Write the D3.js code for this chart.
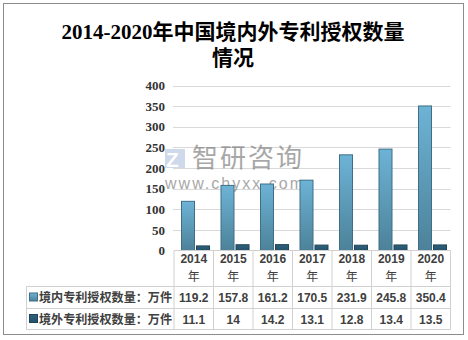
<!DOCTYPE html>
<html><head><meta charset="utf-8">
<script src="https://cdn.jsdelivr.net/npm/d3@7/dist/d3.min.js"></script>
<style>body{margin:0;background:#fff}</style>
</head><body>
<svg id="c" width="468" height="340"></svg>
<script>
const years = ["2014","2015","2016","2017","2018","2019","2020"];
const domestic = [119.2,157.8,161.2,170.5,231.9,245.8,350.4];
const foreign = [11.1,14,14.2,13.1,12.8,13.4,13.5];
const domesticLabels = ["119.2","157.8","161.2","170.5","231.9","245.8","350.4"];
const foreignLabels = ["11.1","14","14.2","13.1","12.8","13.4","13.5"];
const seriesNames = ["境内专利授权数量：万件","境外专利授权数量：万件"];
const yTicks = [0,50,100,150,200,250,300,350,400];
const titleLines = ["2014-2020年中国境内外专利授权数量","情况"];

const svg = d3.select("#c");
const defs = svg.append("defs");
const g1 = defs.append("linearGradient").attr("id","gd").attr("x1",0).attr("y1",0).attr("x2",0).attr("y2",1);
g1.append("stop").attr("offset","0%").attr("stop-color","#6db3d6");
g1.append("stop").attr("offset","100%").attr("stop-color","#4c8299");
const g2 = defs.append("linearGradient").attr("id","gf").attr("x1",0).attr("y1",0).attr("x2",0).attr("y2",1);
g2.append("stop").attr("offset","0%").attr("stop-color","#2f627c");
g2.append("stop").attr("offset","100%").attr("stop-color","#24506a");

// outer frame
svg.append("rect").attr("x",3.5).attr("y",3.5).attr("width",460).attr("height",331)
  .attr("fill","#fff").attr("stroke","#8c8c8c").attr("stroke-width",1);

// title
svg.append("g").selectAll("text").data(titleLines).join("text")
  .attr("x",233).attr("y",(d,i)=>39+i*26).attr("text-anchor","middle")
  .attr("font-family","'Liberation Serif','Noto Sans CJK SC',serif").attr("font-size",21)
  .attr("font-weight","bold").attr("fill","#000").text(d=>d);

const left = 174, right = 450.5, y0 = 250.5, yTop = 85.5;
const x = d3.scaleBand().domain(years).range([left,right]).paddingInner(0).paddingOuter(0);
const y = d3.scaleLinear().domain([0,400]).range([y0,yTop]);

// gridlines
svg.append("g").selectAll("line").data(yTicks.filter(t=>t>0)).join("line")
  .attr("x1",left-1).attr("x2",right).attr("y1",d=>Math.round(y(d))+0.5).attr("y2",d=>Math.round(y(d))+0.5)
  .attr("stroke","#d9d9d9").attr("stroke-width",1);

// y axis labels
const yAxis = d3.axisLeft(y).tickValues(yTicks).tickSize(0).tickPadding(0);
const ya = svg.append("g").attr("transform",`translate(165,0)`).call(yAxis);
ya.select(".domain").remove();
ya.selectAll("text").attr("font-family","'Liberation Serif',serif").attr("font-weight","bold")
  .attr("font-size",13).attr("fill","#333");

// watermark
const wm = svg.append("g").attr("opacity",0.6);
wm.append("rect").attr("x",165).attr("y",149).attr("width",20).attr("height",19).attr("fill","#8fa5d3").attr("opacity",0.7);
wm.append("text").attr("x",166).attr("y",167).attr("font-family","'Liberation Sans',sans-serif")
  .attr("font-weight","bold").attr("font-size",21).attr("fill","#fff").text("Z");
wm.append("text").attr("x",192).attr("y",167).attr("font-family","'Noto Sans CJK SC',sans-serif")
  .attr("font-size",26).attr("textLength",110).attr("lengthAdjust","spacing").attr("fill","#6e6e6e").text("智研咨询");
wm.append("text").attr("x",165).attr("y",189).attr("font-family","'Liberation Sans',sans-serif")
  .attr("font-size",16).attr("textLength",138).attr("lengthAdjust","spacing").attr("fill","#6e6e6e").text("www.chyxx.com");

// bars
const bw = 13;
svg.append("g").selectAll("rect").data(domestic).join("rect")
  .attr("x",(d,i)=>x(years[i])+7.5).attr("y",d=>y(d)).attr("width",bw).attr("height",d=>y0-y(d))
  .attr("fill","url(#gd)").attr("stroke","#3e6f86").attr("stroke-width",1);
svg.append("g").selectAll("rect").data(foreign).join("rect")
  .attr("x",(d,i)=>x(years[i])+22.5).attr("y",d=>y(d)).attr("width",bw).attr("height",d=>y0-y(d))
  .attr("fill","url(#gf)").attr("stroke","#1f4357").attr("stroke-width",1);

// table
const tl = 26.5, r1 = 286.5, r2 = 308.5, r3 = 329.5;
const tg = svg.append("g").attr("stroke","#d0d0d0").attr("stroke-width",1);
tg.append("line").attr("x1",left).attr("x2",right).attr("y1",y0).attr("y2",y0);
[r1,r2,r3].forEach(r=>tg.append("line").attr("x1",tl).attr("x2",right).attr("y1",r).attr("y2",r));
tg.append("line").attr("x1",tl).attr("x2",tl).attr("y1",r1).attr("y2",r3);
tg.selectAll(".v").data(years.concat(["end"])).join("line")
  .attr("x1",(d,i)=>left+i*x.bandwidth()).attr("x2",(d,i)=>left+i*x.bandwidth())
  .attr("y1",y0).attr("y2",r3);

const ff = "'Liberation Sans','Noto Sans CJK SC',sans-serif";
const hdr = svg.append("g").attr("font-family",ff).attr("font-size",12).attr("font-weight","bold")
  .attr("fill","#404040").attr("text-anchor","middle");
hdr.selectAll(".y").data(years).join("text").attr("x",d=>x(d)+x.bandwidth()/2).attr("y",263).text(d=>d);
hdr.selectAll(".n").data(years).join("text").attr("x",d=>x(d)+x.bandwidth()/2).attr("y",281)
  .attr("font-family","'Noto Sans CJK SC',sans-serif").attr("font-size",12).attr("font-weight","normal").text("年");
hdr.selectAll(".a").data(domesticLabels).join("text").attr("x",(d,i)=>x(years[i])+x.bandwidth()/2).attr("y",301.5).text(d=>d);
hdr.selectAll(".b").data(foreignLabels).join("text").attr("x",(d,i)=>x(years[i])+x.bandwidth()/2).attr("y",323.5).text(d=>d);

// legend cells
const lg = svg.append("g");
[0,1].forEach(i=>{
  const cy = i===0 ? 297.5 : 319;
  lg.append("rect").attr("x",29.5).attr("y",cy-4.5).attr("width",8).attr("height",8)
    .attr("fill",i===0?"url(#gd)":"url(#gf)").attr("stroke",i===0?"#3e6f86":"#1f4357");
  lg.append("text").attr("x",39).attr("y",cy+4.5).attr("font-family","'Noto Sans CJK SC',sans-serif")
    .attr("font-size",12.5).attr("font-weight","bold").attr("fill","#404040")
    .attr("textLength",133).attr("lengthAdjust","spacingAndGlyphs").text(seriesNames[i]);
});
</script>
</body></html>
